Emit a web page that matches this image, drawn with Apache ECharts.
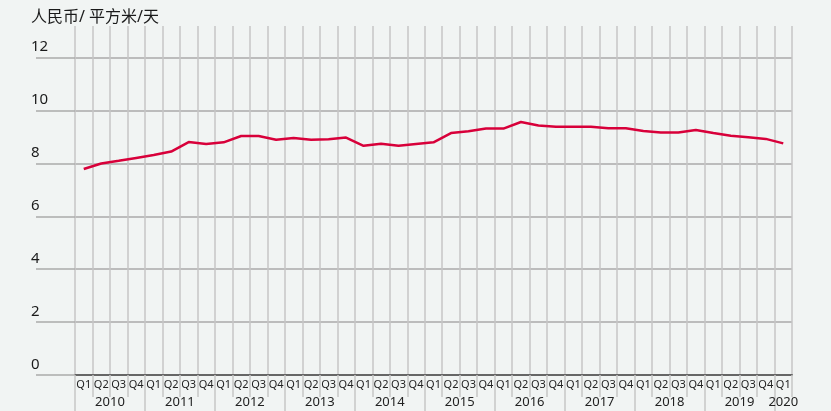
<!DOCTYPE html>
<html>
<head>
<meta charset="utf-8">
<script src="https://cdn.jsdelivr.net/npm/echarts@6/dist/echarts.min.js"></script>
<style>
html,body{margin:0;padding:0;background:#f1f4f3;}
#chart{width:831px;height:411px;}
</style>
</head>
<body>
<div id="chart"></div>
<script>
var quarters = [];
var years = ['2010','2011','2012','2013','2014','2015','2016','2017','2018','2019','2020'];
for (var y = 0; y < 10; y++) {
    quarters.push('Q1','Q2','Q3','Q4');
}
quarters.push('Q1');
// 人民币/平方米/天, 2010Q1 - 2020Q1
var rent = [
    7.79, 8.00, 8.10, 8.21, 8.32, 8.45, 8.81, 8.74, 8.80, 9.04,
    9.04, 8.90, 8.96, 8.90, 8.92, 8.98, 8.67, 8.75, 8.67, 8.74,
    8.80, 9.15, 9.22, 9.32, 9.32, 9.57, 9.44, 9.39, 9.39, 9.39,
    9.33, 9.33, 9.23, 9.17, 9.17, 9.27, 9.15, 9.05, 8.99, 8.93,
    8.76
];
var yTicks = [0, 2, 4, 6, 8, 10, 12];
var yearTicks = [0, 4, 8, 12, 16, 20, 24, 28, 32, 36, 40];
var yearLabelPos = [2, 6, 10, 14, 18, 22, 26, 30, 34, 38, 40.5];

var chart = echarts.init(document.getElementById('chart'));
var font = 'Noto Sans, Noto Sans CJK SC, sans-serif';
chart.setOption({
    backgroundColor: '#f1f4f3',
    animation: false,
    title: {
        text: '人民币/ 平方米/天',
        left: 26,
        top: 4,
        textStyle: {fontSize: 16, fontWeight: 'normal', color: '#1a1a1a', fontFamily: font}
    },
    grid: {left: 75, right: 39, top: 26, bottom: 36},
    xAxis: [{
        type: 'category',
        data: quarters,
        boundaryGap: true,
        axisLine: {lineStyle: {color: '#666', width: 2}},
        axisTick: {show: true, interval: 0, length: 22, lineStyle: {color: '#c6c6c6', width: 1.5}},
        axisLabel: {interval: 0, fontSize: 11, margin: 4, color: '#222', fontFamily: font},
        splitLine: {show: true, interval: 0, lineStyle: {color: '#c6c6c6', width: 1.5}}
    }, {
        type: 'value',
        position: 'bottom',
        min: 0,
        max: 41,
        axisLine: {show: false},
        axisTick: {show: true, customValues: yearTicks, length: 36, lineStyle: {color: '#c6c6c6', width: 1.5}},
        axisLabel: {
            customValues: yearLabelPos,
            margin: 21,
            fontSize: 13,
            color: '#222',
            fontFamily: font,
            formatter: function (v) { return years[Math.floor(v / 4)]; }
        },
        splitLine: {show: false}
    }],
    yAxis: {
        type: 'value',
        min: 0,
        max: 13.2,
        interval: 2,
        offset: 7,
        axisLine: {show: false},
        axisTick: {show: true, customValues: yTicks, length: 39, lineStyle: {color: '#aaa', width: 1.5}},
        axisLabel: {
            customValues: yTicks,
            align: 'left',
            verticalAlign: 'bottom',
            margin: 37,
            padding: [0, 0, 3, 0],
            fontSize: 15,
            color: '#1a1a1a',
            fontFamily: font
        },
        splitLine: {
            show: true,
            lineStyle: {color: ['#aaa', '#aaa', '#aaa', '#aaa', '#aaa', '#aaa', '#aaa', 'transparent'], width: 1.5}
        }
    },
    series: [{
        type: 'line',
        xAxisIndex: 0,
        data: rent,
        symbol: 'none',
        lineStyle: {color: '#d8003a', width: 2.5},
        itemStyle: {color: '#d8003a'}
    }]
});
</script>
</body>
</html>
